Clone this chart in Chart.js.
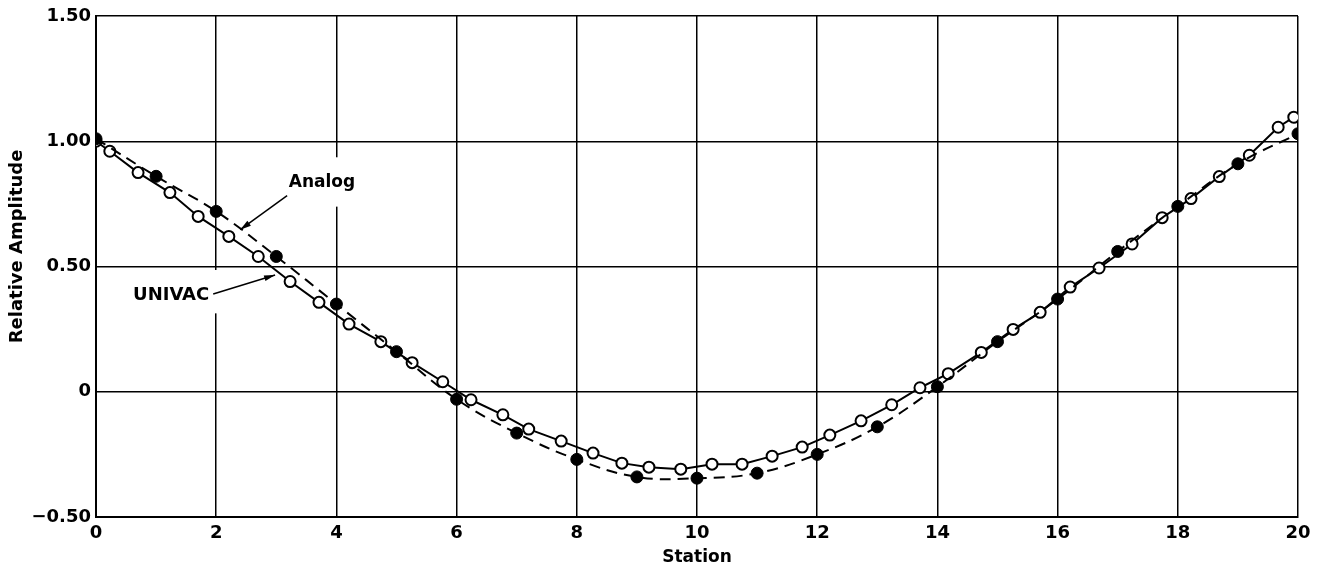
<!DOCTYPE html>
<html>
<head>
<meta charset="utf-8">
<script src="https://cdn.jsdelivr.net/npm/chart.js@4.4.1/dist/chart.umd.min.js"></script>
<style>
    body { margin: 0; background: #fff; }
    #chart { display: block; }
</style>
</head>
<body>
<canvas id="chart" width="1325" height="568"></canvas>
<script>
// Analog computer solution, read at every station
const analogStations = [0, 1, 2, 3, 4, 5, 6, 7, 8, 9, 10, 11, 12, 13, 14, 15, 16, 17, 18, 19, 20];
const analogValues = [1.01, 0.86, 0.72, 0.54, 0.35, 0.16, -0.03, -0.165, -0.27, -0.34, -0.345,
    -0.325, -0.25, -0.14, 0.02, 0.20, 0.37, 0.56, 0.74, 0.91, 1.03];

// UNIVAC solution (open circles)
const univacStations = [0, 0.23, 0.70, 1.23, 1.70, 2.21, 2.70, 3.23, 3.71, 4.21, 4.74, 5.26, 5.77,
    6.24, 6.77, 7.20, 7.74, 8.27, 8.75, 9.20, 9.73, 10.25, 10.75, 11.25, 11.75, 12.21, 12.73,
    13.24, 13.71, 14.18, 14.73, 15.26, 15.71, 16.21, 16.69, 17.24, 17.74, 18.22, 18.69, 19.19,
    19.67, 19.93];
const univacValues = [1.00, 0.96, 0.875, 0.795, 0.70, 0.62, 0.54, 0.44, 0.357, 0.27, 0.20, 0.116,
    0.04, -0.032, -0.092, -0.149, -0.197, -0.245, -0.285, -0.301, -0.309, -0.289, -0.289, -0.257,
    -0.221, -0.173, -0.116, -0.052, 0.016, 0.072, 0.157, 0.249, 0.317, 0.418, 0.494, 0.59, 0.695,
    0.771, 0.859, 0.944, 1.056, 1.096];

const xTicks = [0, 2, 4, 6, 8, 10, 12, 14, 16, 18, 20];
const yTicks = [-0.5, 0, 0.5, 1.0, 1.5];

const yTitle = 'Relative Amplitude';

// labels with arrows, in data units: text position, arrow start, arrow end, white box
const callouts = [
    { text: 'Analog', size: 17, at: [3.76, 0.835], from: [3.18, 0.783], to: [2.40, 0.647], box: [3.14, 4.39, 0.936, 0.739] },
    { text: 'UNIVAC', size: 18, at: [1.25, 0.386], from: [1.95, 0.39], to: [2.98, 0.466], box: [0.53, 2.10, 0.486, 0.313] }
];

const FONT = "'DejaVu Sans', sans-serif";

const toPts = (xs, ys) => xs.map((x, i) => ({ x, y: ys[i] }));

const whiteBg = {
    id: 'whiteBg',
    beforeDraw(chart) {
        const ctx = chart.ctx;
        ctx.save();
        ctx.fillStyle = '#fff';
        ctx.fillRect(0, 0, chart.width, chart.height);
        ctx.restore();
    }
};

function drawArrow(ctx, x1, y1, x2, y2) {
    ctx.beginPath();
    ctx.moveTo(x1, y1);
    ctx.lineTo(x2, y2);
    ctx.stroke();
    const a = Math.atan2(y2 - y1, x2 - x1);
    const len = 11, w = 3;
    ctx.beginPath();
    ctx.moveTo(x2, y2);
    ctx.lineTo(x2 - len * Math.cos(a) + w * Math.sin(a), y2 - len * Math.sin(a) - w * Math.cos(a));
    ctx.lineTo(x2 - len * Math.cos(a) - w * Math.sin(a), y2 - len * Math.sin(a) + w * Math.cos(a));
    ctx.closePath();
    ctx.fill();
}

const calloutPlugin = {
    id: 'callouts',
    beforeDatasetsDraw(chart) {
        const { ctx, scales: { x, y } } = chart;
        ctx.save();
        ctx.fillStyle = '#fff';
        callouts.forEach(c => {
            const x0 = x.getPixelForValue(c.box[0]);
            const x1 = x.getPixelForValue(c.box[1]);
            const y0 = y.getPixelForValue(c.box[2]);
            const y1 = y.getPixelForValue(c.box[3]);
            ctx.fillRect(x0, y0, x1 - x0, y1 - y0);
        });
        ctx.restore();
    },
    afterDatasetsDraw(chart) {
        const { ctx, scales: { x, y } } = chart;
        ctx.save();
        ctx.fillStyle = '#000';
        ctx.strokeStyle = '#000';
        ctx.lineWidth = 1.5;
        ctx.textAlign = 'center';
        ctx.textBaseline = 'middle';
        callouts.forEach(c => {
            ctx.font = 'bold ' + c.size + 'px ' + FONT;
            ctx.fillText(c.text, x.getPixelForValue(c.at[0]), y.getPixelForValue(c.at[1]));
            drawArrow(ctx,
                x.getPixelForValue(c.from[0]), y.getPixelForValue(c.from[1]),
                x.getPixelForValue(c.to[0]), y.getPixelForValue(c.to[1]));
        });

        // y axis title sits a bit above the middle in the original
        ctx.translate(17, y.getPixelForValue(0.58));
        ctx.rotate(-Math.PI / 2);
        ctx.font = 'bold 18px ' + FONT;
        ctx.fillText(yTitle, 0, 0);
        ctx.restore();
    }
};

new Chart(document.getElementById('chart'), {
    type: 'line',
    data: {
        datasets: [
            {
                label: 'Analog',
                data: toPts(analogStations, analogValues),
                borderColor: '#000',
                borderWidth: 2,
                borderDash: [11, 7],
                tension: 0.4,
                pointRadius: 6,
                pointBackgroundColor: '#000',
                pointBorderColor: '#000',
                pointBorderWidth: 1
            },
            {
                label: 'UNIVAC',
                data: toPts(univacStations, univacValues),
                borderColor: '#000',
                borderWidth: 2,
                tension: 0,
                pointRadius: 5.5,
                pointBackgroundColor: '#fff',
                pointBorderColor: '#000',
                pointBorderWidth: 2
            }
        ]
    },
    options: {
        responsive: false,
        animation: false,
        devicePixelRatio: 1,
        layout: { padding: { left: 0, top: 16, right: 27, bottom: 0 } },
        plugins: {
            legend: { display: false },
            tooltip: { enabled: false }
        },
        scales: {
            x: {
                type: 'linear',
                min: 0,
                max: 20,
                afterBuildTicks: s => { s.ticks = xTicks.map(v => ({ value: v })); },
                afterFit: s => { s.height = 51; },
                grid: { color: '#000', lineWidth: 1.5, drawTicks: false },
                border: { color: '#000', width: 2 },
                ticks: { color: '#000', font: { family: FONT, size: 18, weight: 'bold' }, padding: 6, maxRotation: 0 },
                title: {
                    display: true, text: 'Station', color: '#000',
                    font: { family: FONT, size: 17, weight: 'bold' }, padding: { top: 1, bottom: 0 }
                }
            },
            y: {
                type: 'linear',
                min: -0.5,
                max: 1.5,
                afterBuildTicks: s => { s.ticks = yTicks.map(v => ({ value: v })); },
                afterFit: s => { s.width = 96; },
                grid: { color: '#000', lineWidth: 1.5, drawTicks: false },
                border: { color: '#000', width: 2 },
                ticks: {
                    color: '#000', font: { family: FONT, size: 18, weight: 'bold' }, padding: 5,
                    callback: v => v === 0 ? '0' : (v < 0 ? '\u2212' + Math.abs(v).toFixed(2) : v.toFixed(2))
                },
                title: { display: false }
            }
        }
    },
    plugins: [whiteBg, calloutPlugin]
});
</script>
</body>
</html>
